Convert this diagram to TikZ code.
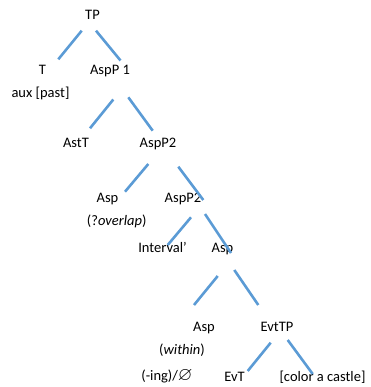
\documentclass[tikz,border=0pt]{standalone}
\usepackage{fontspec}
\usepackage{amssymb}
\setmainfont{Carlito}
\usetikzlibrary{calc}
\definecolor{branchblue}{HTML}{5B9BD5}

\begin{document}
\begin{tikzpicture}[x=1pt, y=-1pt,
  lbl/.style={inner sep=0pt, text height=9.4pt, text depth=0pt, font=\fontsize{14.5}{17}\selectfont},
  branch/.style={branchblue, line width=2.6pt}]

  \useasboundingbox (0,0) rectangle (370,387);

  % tree labels
  \node[lbl] (TP)     at (92.5,15)  {TP};
  \node[lbl] (T)      at (42.5,70)  {T};
  \node[lbl] (aux)    at (40.5,93)  {aux [past]};
  \node[lbl] (AspPa)  at (110,70)   {AspP 1};
  \node[lbl] (AstT)   at (76,143)   {AstT};
  \node[lbl] (AspPb)  at (158,143)  {AspP2};
  \node[lbl] (AspA)   at (107.5,198) {Asp};
  \node[lbl] (overlap) at (116.7,221) {(?\textit{overlap})};
  \node[lbl] (AspPc)  at (183,198)  {AspP2};
  \node[lbl] (Intv)   at (162.5,248) {Interval’};
  \node[lbl] (AspB)   at (222.5,248) {Asp};
  \node[lbl] (AspC)   at (204,327)  {Asp};
  \node[lbl] (within) at (182,350)  {(\textit{within})};
  \node[lbl] (ing)    at (167,376)  {(-ing)/\scalebox{1.3}{$\varnothing$}};
  \node[lbl] (EvtTP)  at (277,327)  {EvtTP};
  \node[lbl] (EvT)    at (234.5,377) {EvT};
  \node[lbl] (castle) at (322.5,377) {[color a castle]};

  % branches (detached from the labels)
  \draw[branch] ($(TP)+(-10.8,15.7)$) -- ($(T)+(15.8,-10.7)$);
  \draw[branch] ($(TP)+(3.5,15.7)$) -- ($(AspPa)+(10.5,-9.5)$);

  \draw[branch] ($(AspPa)+(3.3,29.5)$) -- ($(AstT)+(14,-14.7)$);
  \draw[branch] ($(AspPa)+(18.3,27.3)$) -- ($(AspPb)+(-5.3,-12.3)$);

  \draw[branch] ($(AspPb)+(-9.7,21)$) -- ($(AspA)+(17.5,-6.3)$);
  \draw[branch] ($(AspPb)+(20.3,23.7)$) -- ($(AspPc)+(20.3,2)$);

  \draw[branch] ($(AspPc)+(8,19.3)$) -- ($(Intv)+(5.2,-3)$);
  \draw[branch] ($(AspPc)+(22,16)$) -- ($(AspB)+(8.5,5)$);

  \draw[branch] ($(AspB)+(-4.8,28)$) -- ($(AspC)+(-10,-22)$);
  \draw[branch] ($(AspB)+(11.8,22)$) -- ($(EvtTP)+(-18.7,-22)$);

  \draw[branch] ($(EvtTP)+(-6.3,15.7)$) -- ($(EvT)+(13.2,-6)$);
  \draw[branch] ($(EvtTP)+(10.7,13)$) -- ($(castle)+(-9.8,-3)$);
\end{tikzpicture}
\end{document}
